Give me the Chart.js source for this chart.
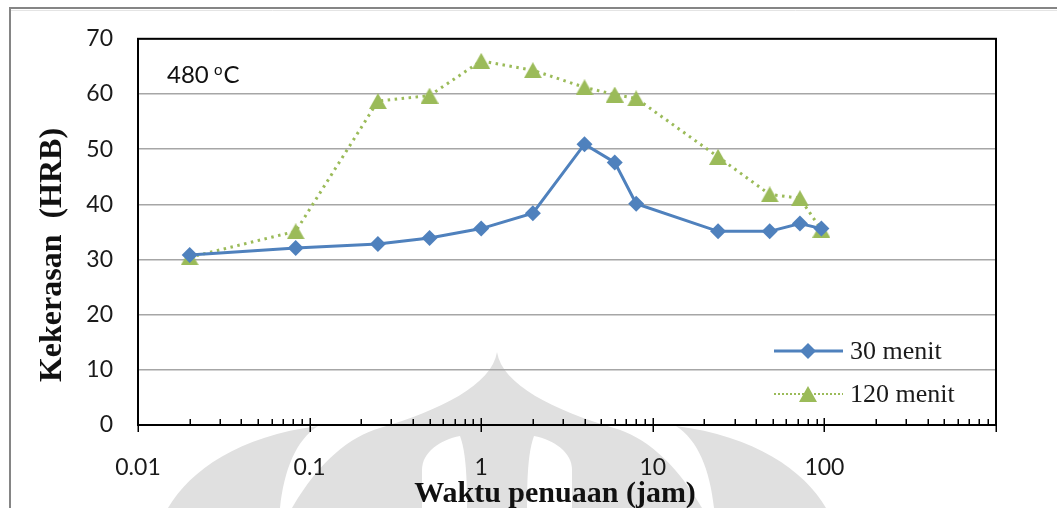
<!DOCTYPE html>
<html>
<head>
<meta charset="utf-8">
<script src="https://cdn.jsdelivr.net/npm/chart.js@4/dist/chart.umd.min.js"></script>
<style>
  html, body { margin: 0; padding: 0; background: #fff; overflow: hidden; }
  #wrap { width: 1057px; height: 508px; }
</style>
</head>
<body>
<div id="wrap"><canvas id="c" width="1057" height="508"></canvas></div>
<script>
// Aging time (hours) and Rockwell B hardness for two solution-treatment times
const agingHours   = [0.02, 0.083, 0.25, 0.5, 1, 2, 4, 6, 8, 24, 48, 72, 96];
const hardness30   = [30.8, 32.1, 32.8, 33.9, 35.6, 38.4, 50.9, 47.6, 40.1, 35.1, 35.1, 36.5, 35.6];
const hardness120  = [30.4, 35.1, 58.7, 59.7, 66.0, 64.3, 61.2, 59.9, 59.2, 48.6, 41.8, 41.1, 35.4];
const seriesNames  = ['30 menit', '120 menit'];
const xDecades     = [0.01, 0.1, 1, 10, 100, 1000];
const xDecadeLabels = ['0.01', '0.1', '1', '10', '100', ''];
const yMin = 0, yMax = 70, yStep = 10;
const xTitle = 'Waktu penuaan (jam)';
const yTitle = 'Kekerasan  (HRB)';
const tempValue = '480';

const BLUE = '#4F81BD';
const GREEN = '#9BBB59';
const TICK_FONT = { family: 'Lato', size: 23 };

// triangle marker drawn as a small image so it sits centred on its point
function makeTriangle(w, h, color) {
  const cv = document.createElement('canvas');
  cv.width = w; cv.height = h;
  const g = cv.getContext('2d');
  g.fillStyle = color;
  g.beginPath();
  g.moveTo(w / 2, 0);
  g.lineTo(w, h);
  g.lineTo(0, h);
  g.closePath();
  g.fill();
  return cv;
}
const triMarker = makeTriangle(18, 16, GREEN);

function toPoints(xs, ys) { return xs.map((x, i) => ({ x: x, y: ys[i] })); }

// page frame and the faint emblem behind the chart
const backdrop = {
  id: 'backdrop',
  beforeDraw(chart) {
    const ctx = chart.ctx;
    ctx.save();
    ctx.fillStyle = '#fff';
    ctx.fillRect(0, 0, chart.width, chart.height);

    ctx.fillStyle = '#e0e0e0';
    ctx.beginPath();
    ctx.moveTo(497, 352);
    ctx.bezierCurveTo(492, 385, 440, 410, 380, 428);
    ctx.bezierCurveTo(350, 437, 320, 460, 292, 508);
    ctx.lineTo(702, 508);
    ctx.bezierCurveTo(674, 460, 644, 437, 614, 428);
    ctx.bezierCurveTo(554, 410, 502, 385, 497, 352);
    ctx.closePath();
    ctx.fill();

    ctx.beginPath();
    ctx.moveTo(318, 426);
    ctx.bezierCurveTo(296, 440, 284, 470, 280, 508);
    ctx.lineTo(168, 508);
    ctx.bezierCurveTo(190, 470, 240, 436, 318, 426);
    ctx.closePath();
    ctx.fill();
    ctx.beginPath();
    ctx.moveTo(676, 426);
    ctx.bezierCurveTo(698, 440, 710, 470, 714, 508);
    ctx.lineTo(826, 508);
    ctx.bezierCurveTo(804, 470, 754, 436, 676, 426);
    ctx.closePath();
    ctx.fill();

    ctx.fillStyle = '#fff';
    ctx.beginPath();
    ctx.moveTo(422, 508);
    ctx.lineTo(422, 470);
    ctx.bezierCurveTo(422, 452, 440, 440, 460, 436);
    ctx.bezierCurveTo(465, 450, 467, 470, 467, 508);
    ctx.closePath();
    ctx.fill();
    ctx.beginPath();
    ctx.moveTo(572, 508);
    ctx.lineTo(572, 470);
    ctx.bezierCurveTo(572, 452, 554, 440, 534, 436);
    ctx.bezierCurveTo(529, 450, 527, 470, 527, 508);
    ctx.closePath();
    ctx.fill();

    ctx.strokeStyle = '#e4e4e4';
    ctx.lineWidth = 1;
    ctx.beginPath();
    ctx.moveTo(11, 10.5); ctx.lineTo(chart.width, 10.5);
    ctx.stroke();
    ctx.strokeStyle = '#858585';
    ctx.lineWidth = 2;
    ctx.beginPath();
    ctx.moveTo(10, chart.height);
    ctx.lineTo(10, 8);
    ctx.lineTo(chart.width, 8);
    ctx.stroke();
    ctx.restore();
  }
};

// plot-area box plus log-axis tick marks
const plotFrame = {
  id: 'plotFrame',
  beforeDatasetsDraw(chart) {
    const ctx = chart.ctx;
    const a = chart.chartArea;
    const xs = chart.scales.x;
    ctx.save();
    ctx.strokeStyle = '#000';
    ctx.lineWidth = 2;
    ctx.strokeRect(a.left, a.top, a.right - a.left, a.bottom - a.top);

    ctx.lineWidth = 1.5;
    ctx.beginPath();
    xDecades.forEach((d, i) => {
      const px = Math.round(xs.getPixelForValue(d)) + 0.25;
      ctx.moveTo(px, a.bottom - 7);
      ctx.lineTo(px, a.bottom + 7);
      if (i < xDecades.length - 1) {
        for (let m = 2; m <= 9; m++) {
          const mx = Math.round(xs.getPixelForValue(d * m)) + 0.25;
          ctx.moveTo(mx, a.bottom - 6);
          ctx.lineTo(mx, a.bottom);
        }
      }
    });
    ctx.stroke();
    ctx.restore();
  }
};

// axis titles, temperature note and the in-plot legend
const annotations = {
  id: 'annotations',
  afterDraw(chart) {
    const ctx = chart.ctx;
    const a = chart.chartArea;
    ctx.save();
    ctx.fillStyle = '#111';

    // x-axis title
    ctx.font = 'bold 30px "Liberation Serif"';
    ctx.textAlign = 'center';
    ctx.textBaseline = 'alphabetic';
    ctx.fillText(xTitle, 555, 502);

    // y-axis title
    ctx.save();
    ctx.translate(61, 255);
    ctx.rotate(-Math.PI / 2);
    ctx.font = 'bold 32px "Liberation Serif"';
    ctx.textAlign = 'center';
    ctx.fillText(yTitle, 0, 0);
    ctx.restore();

    // temperature note
    ctx.textAlign = 'left';
    ctx.font = '24px Lato';
    const tx = a.left + 29, ty = 83;
    ctx.fillText(tempValue, tx, ty);
    const w1 = ctx.measureText(tempValue + ' ').width;
    ctx.font = '15px Lato';
    ctx.fillText('o', tx + w1 - 1, ty - 8);
    const w2 = ctx.measureText('o').width;
    ctx.font = '24px Lato';
    ctx.fillText('C', tx + w1 + w2, ty);

    // legend
    const ds = chart.data.datasets;
    const rows = [351, 394];
    const lx0 = 774, lx1 = 843, mx = 808, textX = 850;
    rows.forEach((ry, i) => {
      const d = ds[i];
      ctx.save();
      ctx.strokeStyle = d.borderColor;
      if (i === 0) {
        ctx.lineWidth = 3;
        ctx.setLineDash([]);
      } else {
        ctx.lineWidth = 2;
        ctx.setLineDash([2, 2]);
      }
      ctx.beginPath();
      ctx.moveTo(lx0, ry);
      ctx.lineTo(lx1, ry);
      ctx.stroke();
      ctx.restore();
      if (d.pointStyle === 'rectRot') {
        ctx.save();
        ctx.fillStyle = d.pointBackgroundColor;
        ctx.beginPath();
        ctx.moveTo(mx, ry - d.pointRadius);
        ctx.lineTo(mx + d.pointRadius, ry);
        ctx.lineTo(mx, ry + d.pointRadius);
        ctx.lineTo(mx - d.pointRadius, ry);
        ctx.closePath();
        ctx.fill();
        ctx.restore();
      } else {
        Chart.helpers.drawPoint(ctx, {
          pointStyle: d.pointStyle,
          radius: d.pointRadius,
          rotation: 0,
          borderWidth: 0
        }, mx, ry);
      }
      ctx.fillStyle = '#1a1a1a';
      ctx.font = '26px "Liberation Serif"';
      ctx.textAlign = 'left';
      ctx.textBaseline = 'middle';
      ctx.fillText(seriesNames[i], textX, ry + 1);
    });
    ctx.restore();
  }
};

new Chart(document.getElementById('c'), {
  type: 'line',
  data: {
    datasets: [
      {
        label: seriesNames[0],
        data: toPoints(agingHours, hardness30),
        borderColor: BLUE,
        backgroundColor: BLUE,
        borderWidth: 3,
        pointStyle: 'rectRot',
        pointRadius: 8,
        pointBackgroundColor: BLUE,
        pointBorderColor: BLUE,
        pointBorderWidth: 0,
        tension: 0,
        fill: false
      },
      {
        label: seriesNames[1],
        data: toPoints(agingHours, hardness120),
        borderColor: GREEN,
        backgroundColor: GREEN,
        borderWidth: 3,
        borderDash: [2.5, 4.5],
        pointStyle: triMarker,
        pointRadius: 8,
        pointBackgroundColor: GREEN,
        pointBorderColor: GREEN,
        pointBorderWidth: 0,
        tension: 0,
        fill: false
      }
    ]
  },
  options: {
    responsive: false,
    animation: false,
    devicePixelRatio: 1,
    events: [],
    layout: { padding: { left: 0, top: 36, right: 61, bottom: 0 } },
    plugins: {
      legend: { display: false },
      tooltip: { enabled: false },
      title: { display: false }
    },
    scales: {
      x: {
        type: 'logarithmic',
        min: xDecades[0],
        max: xDecades[xDecades.length - 1],
        afterBuildTicks(scale) {
          scale.ticks = xDecades.map(v => ({ value: v, major: true }));
        },
        afterFit(scale) { scale.height = 83; },
        ticks: {
          autoSkip: false,
          maxRotation: 0,
          minRotation: 0,
          padding: 29,
          color: '#1a1a1a',
          font: TICK_FONT,
          callback: (v, i) => xDecadeLabels[i]
        },
        grid: { display: false, drawTicks: false },
        border: { display: false }
      },
      y: {
        type: 'linear',
        min: yMin,
        max: yMax,
        afterFit(scale) { scale.width = 138; },
        ticks: {
          stepSize: yStep,
          padding: 25,
          color: '#1a1a1a',
          font: TICK_FONT
        },
        grid: { color: '#a6a6a6', lineWidth: 1.5, drawTicks: false },
        border: { display: false }
      }
    }
  },
  plugins: [backdrop, plotFrame, annotations]
});
</script>
</body>
</html>
